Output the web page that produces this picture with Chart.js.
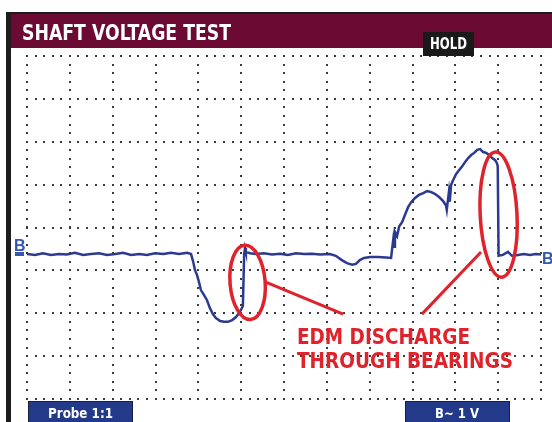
<!DOCTYPE html>
<html>
<head>
<meta charset="utf-8">
<script src="https://cdn.jsdelivr.net/npm/chart.js@4/dist/chart.umd.min.js"></script>
<style>
  html, body { margin: 0; padding: 0; background: #fff; }
  #wrap { width: 552px; height: 422px; position: relative; }
</style>
</head>
<body>
<div id="wrap"><canvas id="scopeChart"></canvas></div>
<script>
// Shaft voltage trace (x in time divisions, y in volt divisions)
const timeDiv = [
  0, 0.19, 0.37, 0.56, 0.75, 0.93, 1.12, 1.31, 1.49, 1.68, 1.87, 2.06, 2.24, 2.43, 2.62, 2.80,
  2.99, 3.18, 3.36, 3.55, 3.74, 3.83,
  3.88, 3.92, 3.97, 4.02, 4.06, 4.13, 4.20, 4.27, 4.34, 4.41, 4.51, 4.60, 4.69, 4.79, 4.88, 4.97, 5.04,
  5.07, 5.09, 5.11, 5.21, 5.35, 5.53, 5.72, 5.91, 6.09, 6.28, 6.47, 6.65, 6.84, 7.07,
  7.21, 7.35, 7.47, 7.59, 7.68, 7.77, 7.87, 8.01, 8.20, 8.38, 8.50,
  8.55, 8.57, 8.59, 8.64, 8.69, 8.76, 8.83, 8.90, 8.97, 9.06, 9.15, 9.25, 9.34, 9.43, 9.53, 9.62, 9.71, 9.78, 9.80,
  9.85, 9.87, 9.90, 9.95, 10.02, 10.09, 10.16, 10.23, 10.30, 10.37, 10.44, 10.51, 10.58, 10.65, 10.72, 10.79, 10.86, 10.93, 10.97, 10.99,
  11.01, 11.11, 11.23, 11.32, 11.46, 11.60, 11.74, 11.88, 12.0
];
const voltsDiv = [
  -0.62, -0.64, -0.60, -0.64, -0.62, -0.63, -0.59, -0.64, -0.62, -0.60, -0.64, -0.62, -0.59, -0.64, -0.62, -0.64,
  -0.60, -0.62, -0.59, -0.62, -0.59, -0.62,
  -0.80, -0.99, -1.11, -1.29, -1.46, -1.57, -1.69, -1.88, -2.02, -2.11, -2.18, -2.20, -2.20, -2.16, -2.09, -1.97, -1.83,
  -0.62, -0.48, -0.57, -0.60, -0.62, -0.60, -0.63, -0.61, -0.64, -0.60, -0.62, -0.61, -0.63, -0.62,
  -0.66, -0.76, -0.83, -0.87, -0.85, -0.76, -0.71, -0.69, -0.69, -0.70, -0.71,
  -0.29, -0.45, -0.10, -0.20, 0.03, 0.13, 0.31, 0.48, 0.59, 0.69, 0.76, 0.80, 0.85, 0.83, 0.78, 0.71, 0.62, 0.52, 0.41,
  0.83, 0.60, 0.99, 1.11, 1.25, 1.34, 1.43, 1.53, 1.62, 1.69, 1.74, 1.81, 1.83, 1.76, 1.74, 1.69, 1.62, 1.57, 1.50, 1.43,
  -0.66, -0.64, -0.57, -0.66, -0.64, -0.62, -0.64, -0.62, -0.63
];
const xTicks = [0, 1, 2, 3, 4, 5, 6, 7, 8, 9, 10, 11, 12];
const yTicks = [-4, -3, -2, -1, 0, 1, 2, 3, 4];

const titleText = 'SHAFT VOLTAGE TEST';
const holdText = 'HOLD';
const probeText = 'Probe 1:1';
const rangeText = 'B~ 1 V';
const noteLines = ['EDM DISCHARGE', 'THROUGH BEARINGS'];

const traceBlue = '#2b3a8e';
const markRed = '#e0222b';
const condensed = '"Liberation Sans Narrow", "DejaVu Sans Condensed", "Liberation Sans", sans-serif';

function fitText(ctx, text, x, y, width, font) {
  ctx.font = font;
  const w = ctx.measureText(text).width;
  ctx.save();
  ctx.translate(x, y);
  ctx.scale(width / w, 1);
  ctx.fillText(text, 0, 0);
  ctx.restore();
}

const scopePlugin = {
  id: 'scope',
  beforeDraw(chart) {
    const ctx = chart.ctx;
    const xs = chart.scales.x, ys = chart.scales.y;
    ctx.save();
    ctx.fillStyle = '#fff';
    ctx.fillRect(0, 0, chart.width, chart.height);
    // frame + header bar
    ctx.fillStyle = '#1c1c1c';
    ctx.fillRect(6, 12, 546, 2);
    ctx.fillRect(6, 12, 5, chart.height - 12);
    ctx.fillStyle = '#6b0a33';
    ctx.fillRect(11, 14, 541, 34);
    ctx.fillStyle = '#fff';
    ctx.textBaseline = 'alphabetic';
    fitText(ctx, titleText, 22, 40, 209, 'bold 21px ' + condensed);

    // dotted graticule
    ctx.fillStyle = '#3a3a3a';
    xTicks.forEach(t => {
      const px = Math.round(xs.getPixelForValue(t));
      for (let v = yTicks[0]; v <= yTicks[yTicks.length - 1] + 0.001; v += 0.2) {
        ctx.fillRect(px - 1, Math.round(ys.getPixelForValue(v)) - 1, 2, 2);
      }
    });
    yTicks.forEach(v => {
      const py = Math.round(ys.getPixelForValue(v));
      for (let t = xTicks[0]; t <= xTicks[xTicks.length - 1] + 0.001; t += 0.2) {
        ctx.fillRect(Math.round(xs.getPixelForValue(t)) - 1, py - 1, 2, 2);
      }
    });
    ctx.restore();
  },
  afterDraw(chart) {
    const ctx = chart.ctx;
    const xs = chart.scales.x, ys = chart.scales.y;
    const X = t => xs.getPixelForValue(t), Y = v => ys.getPixelForValue(v);
    const pxPerDiv = X(1) - X(0), pyPerDiv = Y(0) - Y(1);
    ctx.save();

    // HOLD badge
    ctx.fillStyle = '#1a1a1a';
    ctx.fillRect(423, 32, 51, 24);
    ctx.fillStyle = '#fff';
    fitText(ctx, holdText, 430, 49, 37, 'bold 15px ' + condensed);

    // B reference markers
    ctx.fillStyle = '#3457b0';
    ctx.font = 'bold 16px "Liberation Sans", sans-serif';
    ctx.fillText('B', 14, 251);
    ctx.fillRect(15, 252, 9, 4);
    ctx.fillText('B', 542, 264);

    // red callouts
    ctx.strokeStyle = markRed;
    ctx.lineWidth = 3.5;
    ctx.beginPath();
    ctx.ellipse(X(5.15), Y(-1.28), 0.41 * pxPerDiv, 0.87 * pyPerDiv, -0.08, 0, Math.PI * 2);
    ctx.stroke();
    ctx.beginPath();
    ctx.ellipse(X(11.01), Y(0.3), 0.43 * pxPerDiv, 1.46 * pyPerDiv, -0.05, 0, Math.PI * 2);
    ctx.stroke();
    ctx.lineWidth = 3;
    ctx.beginPath();
    ctx.moveTo(X(5.56), Y(-1.27));
    ctx.lineTo(X(7.38), Y(-2.02));
    ctx.moveTo(X(9.22), Y(-2.02));
    ctx.lineTo(X(10.6), Y(-0.57));
    ctx.stroke();

    ctx.fillStyle = markRed;
    fitText(ctx, noteLines[0], 297, 344, 173, 'bold 21px ' + condensed);
    fitText(ctx, noteLines[1], 297, 368, 216, 'bold 21px ' + condensed);

    // bottom soft-key boxes
    [[28, probeText, 48, 65], [405, rangeText, 435, 44]].forEach(([bx, txt, tx, tw]) => {
      ctx.fillStyle = '#233a8b';
      ctx.fillRect(bx, 401, 105, 22);
      ctx.strokeStyle = '#1a1f3a';
      ctx.lineWidth = 1;
      ctx.strokeRect(bx + 0.5, 401.5, 104, 22);
      ctx.fillStyle = '#fff';
      fitText(ctx, txt, tx, 418, tw, 'bold 14px ' + condensed);
    });
    ctx.restore();
  }
};

const ctx = document.getElementById('scopeChart').getContext('2d');

new Chart(ctx, {
  type: 'line',
  data: {
    datasets: [{
      data: timeDiv.map((t, i) => ({ x: t, y: voltsDiv[i] })),
      borderColor: traceBlue,
      borderWidth: 2.5,
      pointRadius: 0,
      tension: 0,
      fill: false
    }]
  },
  options: {
    responsive: true,
    maintainAspectRatio: false,
    animation: false,
    layout: { padding: { left: 27, right: 11, top: 56, bottom: 23 } },
    plugins: { legend: { display: false }, tooltip: { enabled: false } },
    scales: {
      x: { type: 'linear', min: xTicks[0], max: xTicks[xTicks.length - 1], display: false },
      y: { type: 'linear', min: yTicks[0], max: yTicks[yTicks.length - 1], display: false }
    }
  },
  plugins: [scopePlugin]
});
</script>
</body>
</html>
